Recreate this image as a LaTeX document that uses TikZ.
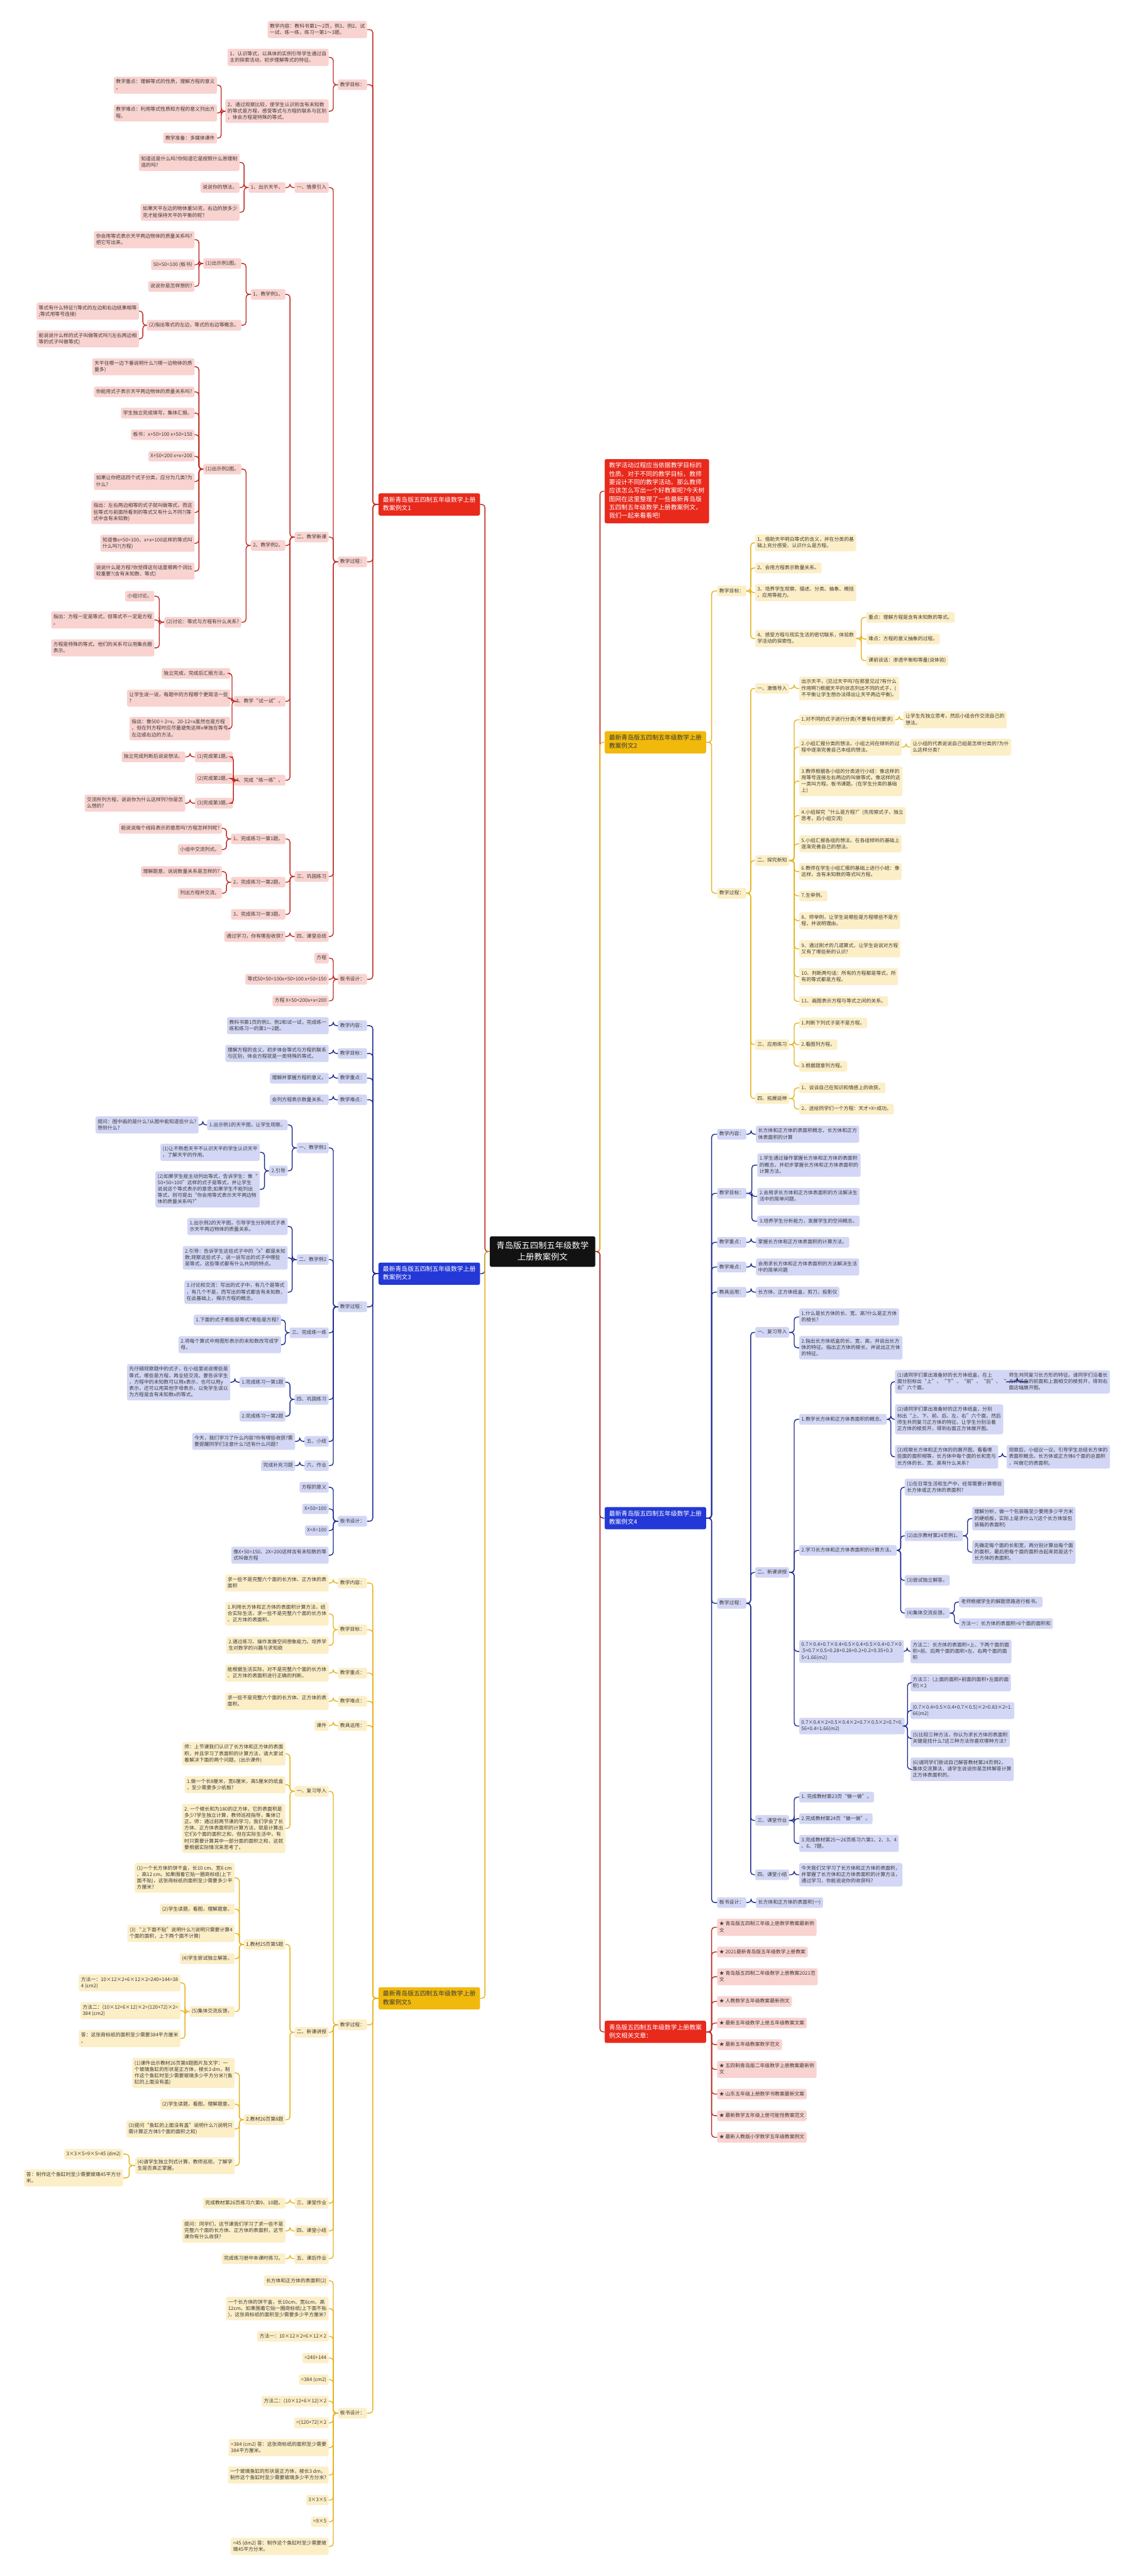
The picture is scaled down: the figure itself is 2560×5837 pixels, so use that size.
\documentclass[tikz,border=0pt]{standalone}
\usepackage{fontspec}
\setmainfont{Noto Sans CJK SC}
\usetikzlibrary{calc}
\definecolor{redL}{HTML}{BF2A22}
\definecolor{redF}{HTML}{F9D3D0}
\definecolor{redM}{HTML}{E8291C}
\definecolor{bluL}{HTML}{1C2A8E}
\definecolor{bluF}{HTML}{D3D7F5}
\definecolor{bluM}{HTML}{2338D6}
\definecolor{yelL}{HTML}{E5B31C}
\definecolor{yelF}{HTML}{FCEFC8}
\definecolor{yelM}{HTML}{F0B90B}
\definecolor{txt}{HTML}{3A3A3A}
\newcommand\Sa{\rule[-2.6pt]{0pt}{11.2pt}}
\newcommand\Sb{\rule[-3.5pt]{0pt}{14.5pt}}
\newcommand\Sc{\rule[-4.5pt]{0pt}{19pt}}
\tikzset{
 base/.style={rounded corners=4pt, inner xsep=5pt, inner ysep=6pt, align=left, text=txt,
   font=\fontsize{11.2}{14.5}\selectfont, execute at begin node=\Sa, execute at end node=\Sa},
 rnode/.style={base, fill=redF},
 bnode/.style={base, fill=bluF},
 ynode/.style={base, fill=yelF},
 mainbox/.style={rounded corners=4pt, inner xsep=10pt, inner ysep=8pt, align=left,
   font=\fontsize{14}{19}\selectfont, execute at begin node=\Sb, execute at end node=\Sb},
 rmain/.style={mainbox, fill=redM, text=white},
 bmain/.style={mainbox, fill=bluM, text=white},
 ymain/.style={mainbox, fill=yelM, text=txt},
 cmain/.style={rounded corners=4pt, inner xsep=15pt, inner ysep=11.5pt, align=center, fill=black!93, text=white,
   font=\fontsize{19}{25.5}\selectfont, execute at begin node=\Sc, execute at end node=\Sc},
 rline/.style={draw=redL, line width=2pt, rounded corners=7pt},
 bline/.style={draw=bluL, line width=2pt, rounded corners=7pt},
 yline/.style={draw=yelL, line width=2pt, rounded corners=7pt},
}
% left child: style prefix, parent, name, right x, y, text
\newcommand\kL[6]{\node[#1node,anchor=east] (#3) at (#4,#5) {#6};
 \path ($(#3.east)!.5!(#2.west)$) coordinate (tmp);
 \draw[#1line] (#3.east) -| (tmp |- #2.west) -- (#2.west);}
% right child: style prefix, parent, name, left x, y, text
\newcommand\kR[6]{\node[#1node,anchor=west] (#3) at (#4,#5) {#6};
 \path ($(#3.west)!.5!(#2.east)$) coordinate (tmp);
 \draw[#1line] (#3.west) -| (tmp |- #2.east) -- (#2.east);}
\begin{document}
\begin{tikzpicture}[x=1pt,y=-1pt]
\fill[white] (0,0) rectangle (2560,5837);
\useasboundingbox (0,0) rectangle (2560,5837);
\node[cmain] (C) at (1229.5,2836) {青岛版五四制五年级数学\\上册教案例文};

% ===================== LEFT RED : 例文1 =====================
\node[rmain,anchor=east] (A) at (1088,1143) {最新青岛版五四制五年级数学上册\\教案例文1};
\path ($(A.east)!.5!(C.west)$) coordinate (tmp);
\draw[rline] (A.east) -| (tmp |- C.west) -- (C.west);
\kL{r}{A}{A1}{832}{67}{教学内容：教科书第1～2页，例1、例2、试\\一试、练一练，练习一第1～3题。}
\kL{r}{A}{A2}{832}{192}{教学目标：}
\kL{r}{A}{A3}{832}{1273}{教学过程：}
\kL{r}{A}{A4}{832}{2219}{板书设计：}
\kL{r}{A2}{A21}{745}{130}{1、认识等式，以具体的实例引导学生通过自\\主的探索活动，初步理解等式的特征。}
\kL{r}{A2}{A22}{745}{252}{2、通过观察比较，使学生认识到含有未知数\\的等式是方程，感受等式与方程的联系与区别\\，体会方程是特殊的等式。}
\kL{r}{A22}{A221}{492}{193}{教学重点：理解等式的性质，理解方程的意义\\。}
\kL{r}{A22}{A222}{492}{256}{教学难点：利用等式性质和方程的意义列出方\\程。}
\kL{r}{A22}{A223}{492}{313}{教学准备：多媒体课件}
\kL{r}{A3}{A31}{745}{425}{一、情景引入}
\kL{r}{A3}{A32}{745}{1217}{二、教学新课}
\kL{r}{A3}{A33}{745}{1986}{三、巩固练习}
\kL{r}{A3}{A34}{745}{2122}{四、课堂总结}
\kL{r}{A31}{A311}{647}{425}{1、出示天平。}
\kL{r}{A311}{A3111}{543}{368}{知道这是什么吗?你知道它是按照什么原理制\\造的吗?}
\kL{r}{A311}{A3112}{543}{425}{说说你的想法。}
\kL{r}{A311}{A3113}{543}{481}{如果天平左边的物体重50克，右边的放多少\\克才能保持天平的平衡的呢?}
\kL{r}{A32}{B1}{647}{667}{1、教学例1。}
\kL{r}{A32}{B2}{647}{1236}{2、教学例2。}
\kL{r}{A32}{B3}{647}{1589}{3、教学“试一试”。}
\kL{r}{A32}{B4}{647}{1768}{4、完成“练一练”。}
\kL{r}{B1}{B11}{547}{597}{(1)出示例1图。}
\kL{r}{B1}{B12}{547}{737}{(2)指出等式的左边，等式的右边等概念。}
\kL{r}{B11}{B111}{441}{543}{你会用等式表示天平两边物体的质量关系吗?\\把它写出来。}
\kL{r}{B11}{B112}{441}{600}{50+50=100 (板书)}
\kL{r}{B11}{B113}{441}{649}{说说你是怎样想的?}
\kL{r}{B12}{B121}{315}{705}{等式有什么特征?(等式的左边和右边结果相等\\;等式用等号连接)}
\kL{r}{B12}{B122}{315}{768}{能说说什么样的式子叫做等式吗?(左右两边相\\等的式子叫做等式)}
\kL{r}{B2}{B21}{547}{1063}{(1)出示例2图。}
\kL{r}{B2}{B22}{547}{1410}{(2)讨论：等式与方程有什么关系?}
\kL{r}{B21}{B211}{441}{831}{天平往哪一边下垂说明什么?(哪一边物体的质\\量多)}
\kL{r}{B21}{B212}{441}{888}{你能用式子表示天平两边物体的质量关系吗?}
\kL{r}{B21}{B213}{441}{936}{学生独立完成填写，集体汇报。}
\kL{r}{B21}{B214}{441}{985}{板书：x+50>100 x+50=150}
\kL{r}{B21}{B215}{441}{1034}{X+50<200 x+x=200}
\kL{r}{B21}{B216}{441}{1091}{如果让你把这四个式子分类，应分为几类?为\\什么?}
\kL{r}{B21}{B217}{441}{1161}{指出：左右两边相等的式子就叫做等式，而这\\些等式与前面所看到的等式又有什么不同?(等\\式中含有未知数)}
\kL{r}{B21}{B218}{441}{1231}{知道像x+50=100，x+x=100这样的等式叫\\什么吗?(方程)}
\kL{r}{B21}{B219}{441}{1294}{说说什么是方程?你觉得这句话里哪两个词比\\较重要?(含有未知数、等式)}
\kL{r}{B22}{B221}{350}{1351}{小组讨论。}
\kL{r}{B22}{B222}{350}{1405}{指出：方程一定是等式，但等式不一定是方程\\。}
\kL{r}{B22}{B223}{350}{1468}{方程是特殊的等式。他们的关系可以用集合圈\\表示。}
\kL{r}{B3}{B31}{522}{1526}{独立完成，完成后汇报方法。}
\kL{r}{B3}{B32}{522}{1582}{让学生说一说，每题中的方程哪个更简洁一些\\?}
\kL{r}{B3}{B33}{522}{1651}{指出：像500÷2=x，20-12=x虽然也是方程\\，但在列方程时应尽量避免这样x单独在等号\\左边或右边的方法。}
\kL{r}{B4}{B41}{528}{1715}{(1)完成第1题。}
\kL{r}{B4}{B42}{528}{1764}{(2)完成第2题。}
\kL{r}{B4}{B43}{528}{1820}{(3)完成第3题。}
\kL{r}{B41}{B411}{420}{1715}{独立完成判断后说说想法。}
\kL{r}{B43}{B431}{420}{1820}{交流所列方程，说说你为什么这样列?你是怎\\么想的?}
\kL{r}{A33}{D1}{647}{1901}{1、完成练习一第1题。}
\kL{r}{A33}{D2}{647}{1999}{2、完成练习一第2题。}
\kL{r}{A33}{D3}{647}{2072}{3、完成练习一第3题。}
\kL{r}{D1}{D11}{503}{1877}{能说说每个线段表示的意思吗?方程怎样列呢?}
\kL{r}{D1}{D12}{503}{1925}{小组中交流列式。}
\kL{r}{D2}{D21}{503}{1975}{理解题意，说说数量关系是怎样的?}
\kL{r}{D2}{D22}{503}{2024}{列出方程并交流。}
\kL{r}{A34}{A341}{647}{2122}{通过学习，你有哪些收获?}
\kL{r}{A4}{A41}{745}{2171}{方程}
\kL{r}{A4}{A42}{745}{2219}{等式50+50=100x+50>100 x+50=150}
\kL{r}{A4}{A43}{745}{2268}{方程 X+50<200x+x=200}

% ===================== LEFT BLUE : 例文3 =====================
\node[bmain,anchor=east] (E) at (1088,2886) {最新青岛版五四制五年级数学上册\\教案例文3};
\path ($(E.east)!.5!(C.west)$) coordinate (tmp);
\draw[bline] (E.east) -| (tmp |- C.west) -- (C.west);
\kL{b}{E}{E1}{832}{2324}{教学内容：}
\kL{b}{E}{E2}{832}{2387}{教学目标：}
\kL{b}{E}{E3}{832}{2443}{教学重点：}
\kL{b}{E}{E4}{832}{2492}{教学难点：}
\kL{b}{E}{E5}{832}{2961}{教学过程：}
\kL{b}{E}{E6}{832}{3447}{板书设计：}
\kL{b}{E1}{E11}{745}{2324}{教科书第1页的例1、例2和试一试，完成练一\\练和练习一的第1～2题。}
\kL{b}{E2}{E21}{745}{2387}{理解方程的含义，初步体会等式与方程的联系\\与区别，体会方程就是一类特殊的等式。}
\kL{b}{E3}{E31}{745}{2443}{理解并掌握方程的意义。}
\kL{b}{E4}{E41}{745}{2492}{会列方程表示数量关系。}
\kL{b}{E5}{E51}{745}{2601}{一、教学例1}
\kL{b}{E5}{E52}{745}{2854}{二、教学例2}
\kL{b}{E5}{E53}{745}{3020}{三、完成练一练}
\kL{b}{E5}{E54}{745}{3171}{四、巩固练习}
\kL{b}{E5}{E55}{745}{3266}{五、小结}
\kL{b}{E5}{E56}{745}{3321}{六、作业}
\kL{b}{E51}{E511}{652}{2549}{1.出示例1的天平图，让学生观察。}
\kL{b}{E51}{E512}{652}{2653}{2.引导}
\kL{b}{E511}{E5111}{450}{2549}{提问：图中画的是什么?从图中能知道些什么?\\想到什么?}
\kL{b}{E512}{E5121}{589}{2611}{(1)让不熟悉天平不认识天平的学生认识天平\\，了解天平的作用。}
\kL{b}{E512}{E5122}{589}{2695}{(2)如果学生能主动列出等式，告诉学生：像“\\50+50=100”这样的式子是等式，并让学生\\说说这个等式表示的意思;如果学生不能列出\\等式，则可提出“你会用等式表示天平两边物\\体的质量关系吗?”}
\kL{b}{E52}{E521}{652}{2779}{1.出示例2的天平图，引导学生分别用式子表\\示天平两边物体的质量关系。}
\kL{b}{E52}{E522}{652}{2850}{2.引导：告诉学生这些式子中的“x”都是未知\\数;观察这些式子，说一说写出的式子中哪些\\是等式，这些等式都有什么共同的特点。}
\kL{b}{E52}{E523}{652}{2928}{3.讨论和交流：写出的式子中，有几个是等式\\，有几个不是，而写出的等式都含有未知数，\\在此基础上，揭示方程的概念。}
\kL{b}{E53}{E531}{637}{2991}{1.下面的式子哪些是等式?哪些是方程?}
\kL{b}{E53}{E532}{637}{3047}{2.将每个算式中用图形表示的未知数改写成字\\母。}
\kL{b}{E54}{E541}{647}{3132}{1.完成练习一第1题}
\kL{b}{E54}{E542}{647}{3209}{2.完成练习一第2题}
\kL{b}{E541}{E5411}{522}{3132}{先仔细观察题中的式子，在小组里说说哪些是\\等式，哪些是方程，再全班交流。要告诉学生\\，方程中的未知数可以用x表示，也可以用y\\表示，还可以用其他字母表示，以免学生误以\\为方程是含有未知数x的等式。}
\kL{b}{E55}{E551}{669}{3266}{今天，我们学习了什么内容?你有哪些收获?需\\要提醒同学们注意什么?还有什么问题?}
\kL{b}{E56}{E561}{669}{3321}{完成补充习题}
\kL{b}{E6}{E61}{745}{3370}{方程的意义}
\kL{b}{E6}{E62}{745}{3419}{X+50=100}
\kL{b}{E6}{E63}{745}{3468}{X+X=100}
\kL{b}{E6}{E64}{745}{3524}{像X+50=150、2X=200这样含有未知数的等\\式叫做方程}

% ===================== LEFT YELLOW : 例文5 =====================
\node[ymain,anchor=east] (F) at (1088,4528) {最新青岛版五四制五年级数学上册\\教案例文5};
\path ($(F.east)!.5!(C.west)$) coordinate (tmp);
\draw[yline] (F.east) -| (tmp |- C.west) -- (C.west);
\kL{y}{F}{F1}{832}{3587}{教学内容：}
\kL{y}{F}{F2}{832}{3693}{教学目标：}
\kL{y}{F}{F3}{832}{3791}{教学重点：}
\kL{y}{F}{F4}{832}{3855}{教学难点：}
\kL{y}{F}{F5}{832}{3910}{教具运用：}
\kL{y}{F}{F6}{832}{4588}{教学过程：}
\kL{y}{F}{F7}{832}{5468}{板书设计：}
\kL{y}{F1}{F11}{745}{3587}{求一些不是完整六个面的长方体、正方体的表\\面积}
\kL{y}{F2}{F21}{745}{3657}{1.利用长方体和正方体的表面积计算方法，结\\合实际生活，求一些不是完整六个面的长方体\\、正方体的表面积。}
\kL{y}{F2}{F22}{745}{3728}{2.通过练习、操作发展空间想象能力。培养学\\生对数学的兴趣与求知欲}
\kL{y}{F3}{F31}{745}{3791}{能根据生活实际，对不是完整六个面的长方体\\、正方体的表面积进行正确的判断。}
\kL{y}{F4}{F41}{745}{3855}{求一些不是完整六个面的长方体、正方体的表\\面积。}
\kL{y}{F5}{F51}{745}{3910}{课件}
\kL{y}{F6}{F61}{745}{4059}{一、复习导入}
\kL{y}{F6}{F62}{745}{4605}{二、新课讲授}
\kL{y}{F6}{F63}{745}{4992}{三、课堂作业}
\kL{y}{F6}{F64}{745}{5055}{四、课堂小结}
\kL{y}{F6}{F65}{745}{5118}{五、课后作业}
\kL{y}{F61}{F611}{647}{3974}{师：上节课我们认识了长方体和正方体的表面\\积，并且学习了表面积的计算方法，请大家试\\着解决下面的两个问题。(出示课件)}
\kL{y}{F61}{F612}{647}{4044}{1.做一个长8厘米，宽6厘米，高5厘米的纸盒\\，至少需要多少纸板?}
\kL{y}{F61}{F613}{647}{4143}{2. 一个棱长和为180的正方体，它的表面积是\\多少?学生独立计算，教师巡视指导，集体订\\正。师：通过前两节课的学习，我们学会了长\\方体、正方体表面积的计算方法，就是计算出\\它们6个面的面积之和，但在实际生活中，有\\时只需要计算其中一部分面的面积之和，这就\\要根据实际情况来思考了。}
\kL{y}{F62}{G1}{647}{4406}{1.教材25页第5题}
\kL{y}{F62}{G2}{647}{4803}{2.教材26页第8题}
\kL{y}{G1}{G11}{532}{4255}{(1)一个长方体的饼干盒，长10 cm、宽6 cm\\、高12 cm。如果围着它贴一圈商标纸(上下\\面不贴)，这张商标纸的面积至少需要多少平\\方厘米?}
\kL{y}{G1}{G12}{532}{4326}{(2)学生读题，看图，理解题意。}
\kL{y}{G1}{G13}{532}{4381}{(3) “上下面不贴”说明什么?(说明只需要计算4\\个面的面积，上下两个面不计算)}
\kL{y}{G1}{G14}{532}{4438}{(4)学生尝试独立解答。}
\kL{y}{G1}{G15}{532}{4558}{(5)集体交流反馈。}
\kL{y}{G15}{G151}{409}{4493}{方法一：10×12×2+6×12×2=240+144=38\\4 (cm2)}
\kL{y}{G15}{G152}{409}{4556}{方法二：(10×12+6×12)×2=(120+72)×2=\\384 (cm2)}
\kL{y}{G15}{G153}{409}{4619}{答：这张商标纸的面积至少需要384平方厘米\\。}
\kL{y}{G2}{G21}{532}{4697}{(1)课件出示教材26页第8题图片及文字：一\\个玻璃鱼缸的形状是正方体，棱长3 dm，制\\作这个鱼缸时至少需要玻璃多少平方分米?(鱼\\缸的上面没有盖)}
\kL{y}{G2}{G22}{532}{4768}{(2)学生读题，看图，理解题意。}
\kL{y}{G2}{G23}{532}{4824}{(3)提问“鱼缸的上面没有盖”说明什么?(说明只\\需计算正方体5个面的面积之和)}
\kL{y}{G2}{G24}{532}{4907}{(4)请学生独立列式计算，教师巡视，了解学\\生是否真正掌握。}
\kL{y}{G24}{G241}{279}{4881}{3×3×5=9×5=45 (dm2)}
\kL{y}{G24}{G242}{279}{4935}{答：制作这个鱼缸时至少需要玻璃45平方分\\米。}
\kL{y}{F63}{F631}{647}{4992}{完成教材第26页练习六第9、10题。}
\kL{y}{F64}{F641}{647}{5055}{提问：同学们，这节课我们学习了求一些不是\\完整六个面的长方体、正方体的表面积，这节\\课你有什么收获?}
\kL{y}{F65}{F651}{647}{5118}{完成练习册中本课时练习。}
\kL{y}{F7}{F71}{745}{5168}{长方体和正方体的表面积(2)}
\kL{y}{F7}{F72}{745}{5231}{一个长方体的饼干盒，长10cm、宽6cm、高\\12cm。如果围着它贴一圈商标纸(上下面不贴\\)，这张商标纸的面积至少需要多少平方厘米?}
\kL{y}{F7}{F73}{745}{5294}{方法一：10×12×2+6×12×2}
\kL{y}{F7}{F74}{745}{5343}{=240+144}
\kL{y}{F7}{F75}{745}{5392}{=384 (cm2)}
\kL{y}{F7}{F76}{745}{5441}{方法二：(10×12+6×12)×2}
\kL{y}{F7}{F77}{745}{5490}{=(120+72)×2}
\kL{y}{F7}{F78}{745}{5546}{=384 (cm2) 答：这张商标纸的面积至少需要\\384平方厘米。}
\kL{y}{F7}{F79}{745}{5608}{一个玻璃鱼缸的形状是正方体，棱长3 dm，\\制作这个鱼缸时至少需要玻璃多少平方分米?}
\kL{y}{F7}{F7a}{745}{5665}{3×3×5}
\kL{y}{F7}{F7b}{745}{5714}{=9×5}
\kL{y}{F7}{F7c}{745}{5770}{=45 (dm2) 答：制作这个鱼缸时至少需要玻\\璃45平方分米。}

% ===================== RIGHT RED INTRO =====================
\node[rmain,anchor=west] (I) at (1370,1113) {教学活动过程应当依据教学目标的\\性质。对于不同的教学目标，教师\\要设计不同的教学活动。那么教师\\应该怎么写出一个好教案呢?今天树\\图网在这里整理了一些最新青岛版\\五四制五年级数学上册教案例文，\\我们一起来看看吧!};
\path ($(I.west)!.5!(C.east)$) coordinate (tmp);
\draw[rline] (I.west) -| (tmp |- C.east) -- (C.east);

% ===================== RIGHT YELLOW : 例文2 =====================
\node[ymain,anchor=west] (H) at (1370,1682) {最新青岛版五四制五年级数学上册\\教案例文2};
\path ($(H.west)!.5!(C.east)$) coordinate (tmp);
\draw[yline] (H.west) -| (tmp |- C.east) -- (C.east);
\kR{y}{H}{H1}{1625}{1339}{教学目标：}
\kR{y}{H}{H2}{1625}{2024}{教学过程：}
\kR{y}{H1}{H11}{1711}{1230}{1、借助天平明白等式的含义，并在分类的基\\础上充分感受、认识什么是方程。}
\kR{y}{H1}{H12}{1711}{1287}{2、会用方程表示数量关系。}
\kR{y}{H1}{H13}{1711}{1343}{3、培养学生观察、描述、分类、抽象、概括\\、应用等能力。}
\kR{y}{H1}{H14}{1711}{1447}{4、感受方程与现实生活的密切联系，体验数\\学活动的探索性。}
\kR{y}{H14}{H141}{1963}{1399}{重点：理解方程是含有未知数的等式。}
\kR{y}{H14}{H142}{1963}{1448}{难点：方程的意义抽象的过程。}
\kR{y}{H14}{H143}{1963}{1497}{课前谈话：渗透平衡和等量(谈体验)}
\kR{y}{H2}{H21}{1711}{1560}{一、激情导入}
\kR{y}{H2}{H22}{1711}{1950}{二、探究新知}
\kR{y}{H2}{H23}{1711}{2367}{三、应用练习}
\kR{y}{H2}{H24}{1711}{2489}{四、拓展延伸}
\kR{y}{H21}{H211}{1811}{1560}{出示天平，(见过天平吗?在那里见过?有什么\\作用啊?)根据天平的状态列出不同的式子，(\\不平衡让学生想办法得出让天平两边平衡)。}
\kR{y}{H22}{H221}{1811}{1631}{1.对不同的式子进行分类(不要有任何要求)}
\kR{y}{H22}{H222}{1811}{1693}{2.小组汇报分类的想法。小组之间在倾听的过\\程中逐渐完善自己本组的想法。}
\kR{y}{H22}{H223}{1811}{1770}{3.教师根据各小组的分类进行小结：像这样的\\用等号连接左右两边的叫做等式。像这样的这\\一类叫方程。板书课题。(在学生分类的基础\\上)}
\kR{y}{H22}{H224}{1811}{1848}{4.小组探究“什么是方程?”(先观察式子，独立\\思考，后小组交流)}
\kR{y}{H22}{H225}{1811}{1912}{5.小组汇报各组的想法。在各组倾听的基础上\\逐渐完善自己的想法。}
\kR{y}{H22}{H226}{1811}{1975}{6.教师在学生小组汇报的基础上进行小结：像\\这样，含有未知数的等式叫方程。}
\kR{y}{H22}{H227}{1811}{2030}{7.生举例。}
\kR{y}{H22}{H228}{1811}{2086}{8、师举例，让学生说哪些是方程哪些不是方\\程，并说明理由。}
\kR{y}{H22}{H229}{1811}{2150}{9、通过刚才的几道算式，让学生说说对方程\\又有了哪些新的认识?}
\kR{y}{H22}{H22a}{1811}{2213}{10、判断两句话：所有的方程都是等式，所\\有的等式都是方程。}
\kR{y}{H22}{H22b}{1811}{2269}{11、画图表示方程与等式之间的关系。}
\kR{y}{H221}{H2211}{2047}{1631}{让学生先独立思考，然后小组合作交流自己的\\想法。}
\kR{y}{H222}{H2221}{2063}{1693}{让小组的代表说说自己组是怎样分类的?为什\\么这样分类?}
\kR{y}{H23}{H231}{1811}{2318}{1.判断下列式子是不是方程。}
\kR{y}{H23}{H232}{1811}{2367}{2.看图列方程。}
\kR{y}{H23}{H233}{1811}{2416}{3.根据题意列方程。}
\kR{y}{H24}{H241}{1811}{2465}{1、谈谈自己在知识和情感上的收获。}
\kR{y}{H24}{H242}{1811}{2513}{2、送给同学们一个方程：天才+X=成功。}

% ===================== RIGHT BLUE : 例文4 =====================
\node[bmain,anchor=west] (J) at (1370,3440) {最新青岛版五四制五年级数学上册\\教案例文4};
\path ($(J.west)!.5!(C.east)$) coordinate (tmp);
\draw[bline] (J.west) -| (tmp |- C.east) -- (C.east);
\kR{b}{J}{J1}{1625}{2570}{教学内容：}
\kR{b}{J}{J2}{1625}{2704}{教学目标：}
\kR{b}{J}{J3}{1625}{2815}{教学重点：}
\kR{b}{J}{J4}{1625}{2871}{教学难点：}
\kR{b}{J}{J5}{1625}{2928}{教具运用：}
\kR{b}{J}{J6}{1625}{3633}{教学过程：}
\kR{b}{J}{J7}{1625}{4311}{板书设计：}
\kR{b}{J1}{J11}{1713}{2570}{长方体和正方体的表面积概念，长方体和正方\\体表面积的计算}
\kR{b}{J2}{J21}{1716}{2640}{1.学生通过操作掌握长方体和正方体的表面积\\的概念，并初步掌握长方体和正方体表面积的\\计算方法。}
\kR{b}{J2}{J22}{1716}{2711}{2.会用求长方体和正方体表面积的方法解决生\\活中的简单问题。}
\kR{b}{J2}{J23}{1716}{2767}{3.培养学生分析能力，发展学生的空间概念。}
\kR{b}{J3}{J31}{1713}{2815}{掌握长方体和正方体表面积的计算方法。}
\kR{b}{J4}{J41}{1713}{2871}{会用求长方体和正方体表面积的方法解决生活\\中的简单问题}
\kR{b}{J5}{J51}{1713}{2928}{长方体、正方体纸盒，剪刀，投影仪}
\kR{b}{J6}{J61}{1711}{3019}{一、复习导入}
\kR{b}{J6}{J62}{1711}{3563}{二、新课讲授}
\kR{b}{J6}{J63}{1711}{4125}{三、课堂作业}
\kR{b}{J6}{J64}{1711}{4248}{四、课堂小结}
\kR{b}{J61}{J611}{1811}{2984}{1.什么是长方体的长、宽、高?什么是正方体\\的棱长?}
\kR{b}{J61}{J612}{1811}{3054}{2.指出长方体纸盒的长、宽、高，并说出长方\\体的特征。指出正方体的棱长，并说出正方体\\的特征。}
\kR{b}{J62}{K1}{1811}{3216}{1.教学长方体和正方体表面积的概念。}
\kR{b}{J62}{K2}{1811}{3513}{2.学习长方体和正方体表面积的计算方法。}
\kR{b}{J62}{K3}{1811}{3742}{0.7×0.4+0.7×0.4+0.5×0.4+0.5×0.4+0.7×0\\.5+0.7×0.5=0.28+0.28+0.2+0.2+0.35+0.3\\5=1.66(m2)}
\kR{b}{J62}{K4}{1811}{3911}{0.7×0.4×2+0.5×0.4×2+0.7×0.5×2=0.7+0.\\56+0.4=1.66(m2)}
\kR{b}{K1}{K11}{2028}{3131}{(1)请同学们拿出准备好的长方体纸盒，在上\\面分别标出“上”、“下”、“前”、“后”、“左”、“\\右”六个面。}
\kR{b}{K1}{K12}{2028}{3216}{(2)请同学们拿出准备好的正方体纸盒，分别\\标出“上、下、前、后、左、右”六个面，然后\\师生共同复习正方体的特征。让学生分别沿着\\正方体的棱剪开，得到右面正方体展开图。}
\kR{b}{K1}{K13}{2028}{3301}{(3)观察长方体和正方体的的展开图，看看哪\\些面的面积相等，长方体中每个面的长和宽与\\长方体的长、宽、高有什么关系?}
\kR{b}{K11}{K111}{2281}{3131}{师生共同复习长方形的特征。请同学们沿着长\\方体纸盒的前面和上面相交的棱剪开，得到右\\面这幅展开图。}
\kR{b}{K13}{K131}{2281}{3301}{观察后，小组议一议。引导学生总结长方体的\\表面积概念。长方体或正方体6个面的总面积\\，叫做它的表面积。}
\kR{b}{K2}{K21}{2050}{3370}{(1)在日常生活和生产中，经常需要计算哪些\\长方体或正方体的表面积?}
\kR{b}{K2}{K22}{2050}{3480}{(2)出示教材第24页例1。}
\kR{b}{K2}{K23}{2050}{3581}{(3)尝试独立解答。}
\kR{b}{K2}{K24}{2050}{3655}{(4)集体交流反馈。}
\kR{b}{K22}{K221}{2203}{3441}{理解分析，做一个包装箱至少要用多少平方米\\的硬纸板，实际上是求什么?(这个长方体饭包\\装箱的表面积)}
\kR{b}{K22}{K222}{2203}{3517}{先确定每个面的长和宽，再分别计算出每个面\\的面积，最后把每个面的面积合起来就是这个\\长方体的表面积。}
\kR{b}{K24}{K241}{2173}{3630}{老师根据学生的解题思路进行板书。}
\kR{b}{K24}{K242}{2173}{3679}{方法一：长方体的表面积=6个面的面积和}
\kR{b}{K3}{K31}{2063}{3742}{方法二：长方体的表面积=上、下两个面的面\\积+前、后两个面的面积+左、右两个面的面\\积}
\kR{b}{K4}{K41}{2063}{3813}{方法三：(上面的面积+前面的面积+左面的面\\积)×2}
\kR{b}{K4}{K42}{2063}{3876}{(0.7×0.4+0.5×0.4+0.7×0.5)×2=0.83×2=1.\\66(m2)}
\kR{b}{K4}{K43}{2063}{3939}{(5)比较三种方法，你认为求长方体的表面积\\关键是找什么?这三种方法你喜欢哪种方法?}
\kR{b}{K4}{K44}{2063}{4009}{(6)请同学们尝试自己解答教材第24页例2，\\集体交流算法，请学生说说你是怎样解答计算\\正方体表面积的。}
\kR{b}{J63}{J631}{1811}{4072}{1. 完成教材第23页“做一做”。}
\kR{b}{J63}{J632}{1811}{4121}{2.完成教材第24页“做一做”。}
\kR{b}{J63}{J633}{1811}{4177}{3.完成教材第25～26页练习六第1、2、3、4\\、6、7题。}
\kR{b}{J64}{J641}{1811}{4248}{今天我们又学习了长方体和正方体的表面积，\\并掌握了长方体和正方体表面积的计算方法，\\通过学习，你能说说你的收获吗?}
\kR{b}{J7}{J71}{1713}{4311}{长方体和正方体的表面积(一)}

% ===================== RIGHT RED : 相关文章 =====================
\node[rmain,anchor=west] (L) at (1370,4604) {青岛版五四制五年级数学上册教案\\例文相关文章：};
\path ($(L.west)!.5!(C.east)$) coordinate (tmp);
\draw[rline] (L.west) -| (tmp |- C.east) -- (C.east);
\kR{r}{L}{L1}{1625}{4367}{★ 青岛版五四制三年级上册数学教案最新例\\文}
\kR{r}{L}{L2}{1625}{4423}{★ 2021最新青岛版五年级数学上册教案}
\kR{r}{L}{L3}{1625}{4479}{★ 青岛版五四制二年级数学上册教案2021范\\文}
\kR{r}{L}{L4}{1625}{4535}{★ 人教数学五年级教案最新例文}
\kR{r}{L}{L5}{1625}{4584}{★ 最新五年级数学上册五年级教案文案}
\kR{r}{L}{L6}{1625}{4633}{★ 最新五年级教案数学范文}
\kR{r}{L}{L7}{1625}{4689}{★ 五四制青岛版二年级数学上册教案最新例\\文}
\kR{r}{L}{L8}{1625}{4745}{★ 山东五年级上册数学书教案最新文案}
\kR{r}{L}{L9}{1625}{4794}{★ 最新数学五年级上册可能性教案范文}
\kR{r}{L}{L10}{1625}{4843}{★ 最新人教版小学数学五年级教案例文}
\end{tikzpicture}
\end{document}
